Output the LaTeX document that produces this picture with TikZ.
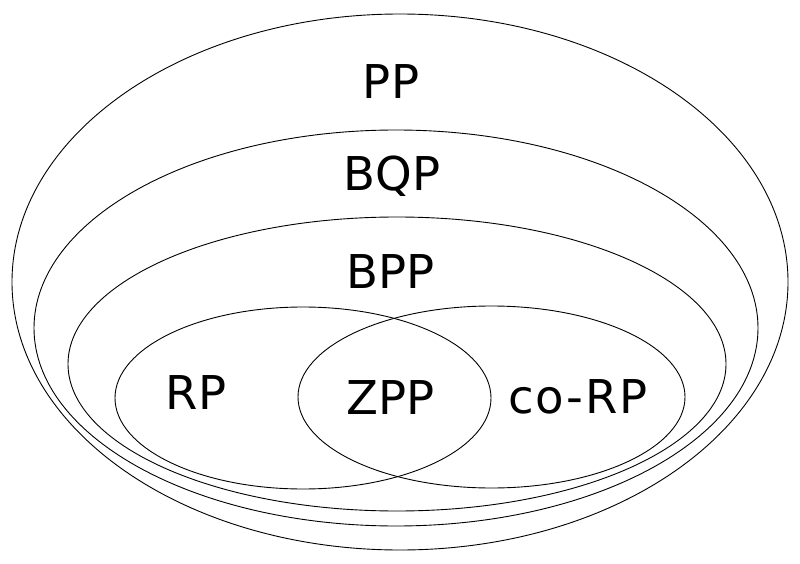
\documentclass[tikz,border=0pt]{standalone}
\usepackage{fontspec}
\setmainfont{DejaVu Sans}
\tikzset{classname/.style={anchor=base,inner sep=0pt,font=\fontsize{46.6}{56}\selectfont}}
\begin{document}
\begin{tikzpicture}[x=1pt,y=-1pt,line width=0.9pt]
                \useasboundingbox[fill=white] (0,0) rectangle (800,564);
                % nested classes
                \draw (400,282) ellipse (388pt and 268pt);
                \draw (396,328) ellipse (362pt and 198pt);
                \draw (397,364) ellipse (329pt and 147pt);
                \draw (303,398) ellipse (188pt and 91pt);
                \draw (491.5,397) ellipse (193.5pt and 91pt);

                \node[classname] (pp) at (391,99) {PP};
                \node[classname] (bqp) at (392,191) {BQP};
                \node[classname] (bpp) at (391,288) {BPP};
                \node[classname] (rp) at (196,409) {RP};
                \node[classname] (zpp) at (391,414) {ZPP};
                \node[classname] (corp) at (578,413) {\addfontfeatures{LetterSpace=4}co-RP};
            \end{tikzpicture}
\end{document}
